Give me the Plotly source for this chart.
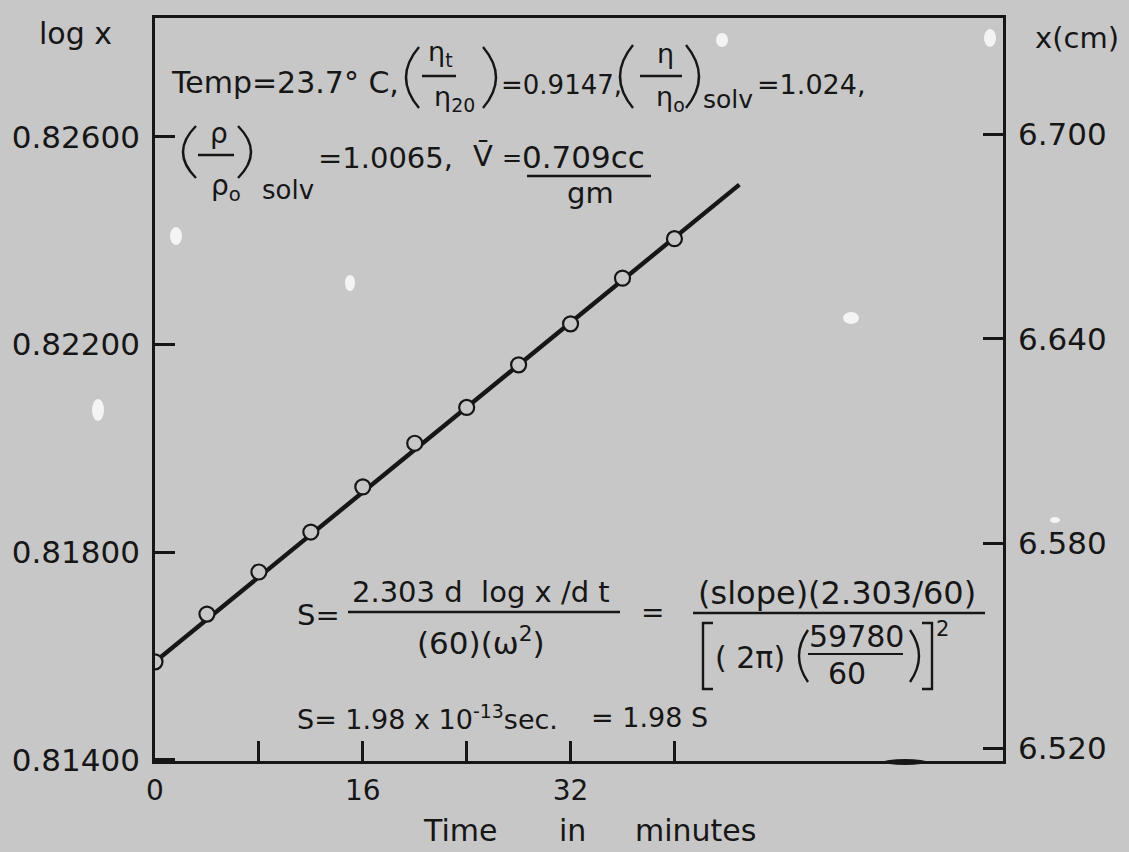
import plotly.graph_objects as go

# ---------------- data ----------------
time_min = [0, 4, 8, 12, 16, 20, 24, 28, 32, 36, 40]
log_x = [0.81589, 0.81681, 0.81762, 0.81839, 0.81926, 0.82010,
         0.82079, 0.82161, 0.82240, 0.82328, 0.82404]
fit_time = [0, 45]
fit_log_x = [0.81589, 0.82508]

x_label_ticks = [0, 16, 32]
x_labels = ["0", "16", "32"]
x_plain_ticks = [8, 24, 40]
left_ticks = [0.814, 0.818, 0.822, 0.826]
left_labels = ["0.81400", "0.81800", "0.82200", "0.82600"]
right_ticks = [6.52, 6.58, 6.64, 6.70]
right_labels = ["6.520", "6.580", "6.640", "6.700"]

BG = "#c7c7c7"
INK = "#161616"
FONT = "DejaVu Sans"

# plot-area geometry in page pixels
L, R, T, B = 155, 1003, 18, 761
W, H = 1129, 852
X_RANGE = [0, 65.3]


def X(px):
    return (px - L) / (R - L)


def Y(py):
    return (B - py) / (B - T)


fig = go.Figure()
fig.add_trace(go.Scatter(x=fit_time, y=fit_log_x, mode="lines",
                         line=dict(color=INK, width=4.4),
                         showlegend=False, hoverinfo="skip"))
fig.add_trace(go.Scatter(x=time_min, y=log_x, mode="markers",
                         marker=dict(symbol="circle", size=15, color=BG,
                                     line=dict(color=INK, width=2.2)),
                         showlegend=False))
fig.add_trace(go.Scatter(x=[None], y=[None], yaxis="y2",
                         showlegend=False, hoverinfo="skip"))
fig.add_trace(go.Scatter(x=[None], y=[None], xaxis="x2",
                         showlegend=False, hoverinfo="skip"))

ann = []


def text(s, x, y, size=27, anchor="left"):
    ann.append(dict(text=s, x=X(x), y=Y(y), xref="paper", yref="paper",
                    xanchor=anchor, yanchor="middle", showarrow=False,
                    font=dict(family=FONT, size=size, color=INK)))


shapes = []


def hline(x0, x1, y, w=2.4):
    shapes.append(dict(type="line", xref="paper", yref="paper",
                       x0=X(x0), x1=X(x1), y0=Y(y), y1=Y(y),
                       line=dict(color=INK, width=w)))


def paren(x0, x1, y0, y1, left=True):
    ym = (y0 + y1) / 2
    if left:
        p = f"M {X(x1)} {Y(y0)} Q {X(x0 - (x1 - x0))} {Y(ym)} {X(x1)} {Y(y1)}"
    else:
        p = f"M {X(x0)} {Y(y0)} Q {X(x1 + (x1 - x0))} {Y(ym)} {X(x0)} {Y(y1)}"
    shapes.append(dict(type="path", xref="paper", yref="paper", path=p,
                       line=dict(color=INK, width=2.4)))


def bracket(x0, x1, y0, y1, left=True):
    if left:
        p = f"M {X(x1)} {Y(y0)} L {X(x0)} {Y(y0)} L {X(x0)} {Y(y1)} L {X(x1)} {Y(y1)}"
    else:
        p = f"M {X(x0)} {Y(y0)} L {X(x1)} {Y(y0)} L {X(x1)} {Y(y1)} L {X(x0)} {Y(y1)}"
    shapes.append(dict(type="path", xref="paper", yref="paper", path=p,
                       line=dict(color=INK, width=2.4)))


def speck(cx, cy, rx, ry, col="#f4f4f4"):
    shapes.append(dict(type="circle", xref="paper", yref="paper",
                       x0=X(cx - rx), x1=X(cx + rx), y0=Y(cy - ry), y1=Y(cy + ry),
                       fillcolor=col, line=dict(width=0), layer="below"))


SP = "&nbsp;"

# axis titles
text("log x", 75, 33, 30, "center")
text("x(cm)", 1077, 38, 29, "center")
text("Time", 460, 830, 30, "center")
text("in", 572, 830, 30, "center")
text("minutes", 695, 830, 30, "center")

# line 1 of the constants
text("Temp=23.7° C,", 169, 82, 30)
paren(406, 419, 47, 108, True)
text("η<sub>t</sub>", 440, 53, 27, "center")
hline(422, 456, 76)
text("η<sub>20</sub>", 454, 98, 27, "center")
paren(483, 496, 47, 108, False)
text("=0.9147,", 499, 85, 26)
paren(620, 633, 45, 108, True)
text("η", 665, 53, 27, "center")
hline(640, 682, 76)
text("η<sub>o</sub>", 670, 98, 27, "center")
paren(686, 699, 45, 108, False)
text("solv", 701, 99, 25)
text("=1.024,", 755, 85, 27)

# line 2 of the constants
paren(183, 196, 126, 178, True)
text("ρ", 219, 134, 28, "center")
hline(198, 234, 155)
text("ρ<sub>o</sub>", 226, 187, 28, "center")
paren(238, 251, 126, 178, False)
text("solv", 260, 190, 26)
text("=1.0065,", 316, 158, 29)
text("V\u0304", 471, 156, 29)
text("=", 500, 158, 24)
text("0.709cc", 520, 157, 31)
hline(527, 651, 176)
text("gm", 590, 193, 29, "center")

# sedimentation formula
text("S=", 295, 615, 29)
text("2.303 d" + SP * 2 + "log x /d t", 481, 592, 29, "center")
hline(348, 620, 612)
text("(60)(ω<sup>2</sup>)", 481, 641, 31, "center")
text("=", 652, 612, 28, "center")
text("(slope)(2.303/60)", 837, 593, 32, "center")
hline(693, 985, 613)
bracket(703, 713, 623, 689, True)
text("( 2π)", 713, 657, 30)
paren(799, 808, 630, 682, True)
text("59780", 856, 636, 30, "center")
hline(808, 903, 654, 2.0)
text("60", 847, 673, 30, "center")
paren(910, 919, 630, 682, False)
bracket(922, 932, 623, 689, False)
text("2", 942, 629, 21, "center")

# result
text("S= 1.98 x 10<sup>-13</sup>sec.", 295, 717, 27)
text("= 1.98 S", 589, 717, 27)

# dust specks on the photograph
speck(176, 236, 6, 9)
speck(350, 283, 5, 8)
speck(98, 410, 6, 11)
speck(851, 318, 8, 6)
speck(722, 40, 6, 7)
speck(990, 38, 6, 9)
speck(1055, 520, 5, 3)
speck(905, 762, 22, 3, INK)

axis_common = dict(showline=True, linecolor=INK, linewidth=2.6,
                   ticks="inside", ticklen=20, tickwidth=2.6, tickcolor=INK,
                   showgrid=False, zeroline=False,
                   tickfont=dict(family=FONT, size=31, color=INK))
x_axis_style = dict(axis_common, tickfont=dict(family=FONT, size=28, color=INK))

fig.update_layout(
    width=W, height=H,
    margin=dict(l=L, r=W - R, t=T, b=H - B, pad=0),
    paper_bgcolor=BG, plot_bgcolor=BG,
    showlegend=False,
    xaxis=dict(range=X_RANGE, tickvals=x_label_ticks, ticktext=x_labels,
               mirror=True, ticklabelstandoff=3, **x_axis_style),
    xaxis2=dict(range=X_RANGE, tickvals=x_plain_ticks, overlaying="x",
                side="bottom", showticklabels=False, showline=False,
                ticks="inside", ticklen=20, tickwidth=2.6, tickcolor=INK,
                showgrid=False, zeroline=False),
    yaxis=dict(range=[0.81398, 0.82829], tickvals=left_ticks,
               ticktext=left_labels, ticklabelstandoff=6, **axis_common),
    yaxis2=dict(range=[6.5163, 6.734], tickvals=right_ticks,
                ticktext=right_labels, overlaying="y", side="right",
                ticklabelstandoff=6, **axis_common),
    annotations=ann,
    shapes=shapes,
)

fig.write_html("out.html", config={"displayModeBar": False})

# remove the browser's default page margin so the figure fills the window
with open("out.html", encoding="utf-8") as f:
    html = f.read()
html = html.replace("<body>", '<body style="margin:0;overflow:hidden;background:%s">' % BG, 1)
with open("out.html", "w", encoding="utf-8") as f:
    f.write(html)
